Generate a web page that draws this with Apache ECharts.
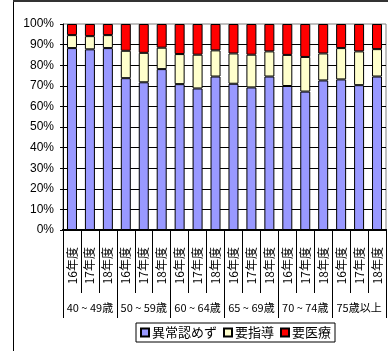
<!DOCTYPE html>
<html>
<head>
<meta charset="utf-8">
<script src="https://cdn.jsdelivr.net/npm/echarts@6/dist/echarts.min.js"></script>
<style>
  html, body { margin: 0; padding: 0; background: #fff; }
  #chart { width: 388px; height: 351px; }
</style>
</head>
<body>
<div id="chart"></div>
<script>
// Fiscal years per age group, and the age groups themselves
const years = ['16年度', '17年度', '18年度'];
const ageGroups = ['40 ~ 49歳', '50 ~ 59歳', '60 ~ 64歳', '65 ~ 69歳', '70 ~ 74歳', '75歳以上'];

// Share of examinees (%) per result, 3 years × 6 age groups
const normal = [88.3, 87.7, 88.3, 73.7, 71.7, 78.1, 70.8, 68.7, 74.5, 71.0, 69.2, 74.5, 69.9, 67.2, 72.6, 73.1, 70.3, 74.5];
const guidance = [6.3, 6.4, 6.3, 13.3, 14.3, 10.4, 14.6, 16.4, 12.7, 14.7, 15.9, 12.2, 15.1, 16.8, 13.1, 15.2, 16.4, 13.3];
const medical = [5.4, 5.9, 5.4, 13.0, 14.0, 11.5, 14.6, 14.9, 12.8, 14.3, 14.9, 13.3, 15.0, 16.0, 14.3, 11.7, 13.3, 12.2];

const seriesNames = ['異常認めず', '要指導', '要医療'];
const yTicks = { min: 0, max: 100, interval: 10 };

const categories = [];
ageGroups.forEach(() => years.forEach(y => categories.push(y)));

const font = "'Liberation Sans', 'Noto Sans CJK JP', sans-serif";
const cjkFont = "'Noto Sans CJK JP', 'Liberation Sans', sans-serif";

const chart = echarts.init(document.getElementById('chart'), null, { renderer: 'canvas' });

function barSeries(name, data, color) {
  return {
    name: name,
    type: 'bar',
    stack: 'total',
    data: data,
    barWidth: 10,
    itemStyle: { color: color, borderColor: '#000', borderWidth: 1 }
  };
}

chart.setOption({
  animation: false,
  backgroundColor: '#fff',
  grid: {
    left: 63, right: 2, top: 24, bottom: 121,
    show: true, borderColor: '#808080', borderWidth: 1, backgroundColor: '#fff'
  },
  xAxis: [
    {
      type: 'category',
      data: categories,
      position: 'bottom',
      axisLine: { show: true, lineStyle: { color: '#000', width: 2 } },
      axisTick: { show: true, interval: 0, length: 63, lineStyle: { color: '#000', width: 1 } },
      axisLabel: {
        interval: 0, rotate: 90, margin: 17,
        fontSize: 12, color: '#000', fontFamily: cjkFont
      },
      splitLine: { show: false }
    },
    {
      type: 'category',
      data: ageGroups,
      position: 'bottom',
      axisLine: { show: true, lineStyle: { color: '#000', width: 2 } },
      axisTick: { show: true, interval: 0, length: 88, lineStyle: { color: '#000', width: 1 } },
      axisLabel: {
        interval: 0, margin: 72,
        fontSize: 11, color: '#000', fontFamily: cjkFont
      },
      splitLine: { show: false }
    }
  ],
  yAxis: {
    type: 'value',
    min: yTicks.min, max: yTicks.max, interval: yTicks.interval,
    axisLine: { show: true, lineStyle: { color: '#000' } },
    axisTick: { show: true, length: 3, lineStyle: { color: '#000' } },
    axisLabel: {
      formatter: '{value}%', margin: 9,
      fontSize: 12, color: '#000', fontFamily: font
    },
    splitLine: { show: true, showMaxLine: false, lineStyle: { color: '#000', width: 1 } }
  },
  legend: {
    data: seriesNames,
    left: 136, top: 323,
    itemWidth: 8, itemHeight: 8, itemGap: 6,
    padding: [3, 4, 3, 4],
    borderColor: '#000', borderWidth: 1,
    textStyle: { fontSize: 13, color: '#000', fontFamily: cjkFont, padding: [0, 0, 0, -2] },
    icon: 'rect'
  },
  graphic: [
    { type: 'line', shape: { x1: 13.5, y1: 0, x2: 13.5, y2: 351 }, style: { stroke: '#000', lineWidth: 1 } },
    { type: 'line', shape: { x1: 13, y1: 1, x2: 388, y2: 1 }, style: { stroke: '#333', lineWidth: 2 } }
  ],
  series: [
    barSeries(seriesNames[0], normal, '#9999FF'),
    barSeries(seriesNames[1], guidance, '#FFFFCC'),
    barSeries(seriesNames[2], medical, '#FF0000')
  ]
});
</script>
</body>
</html>
